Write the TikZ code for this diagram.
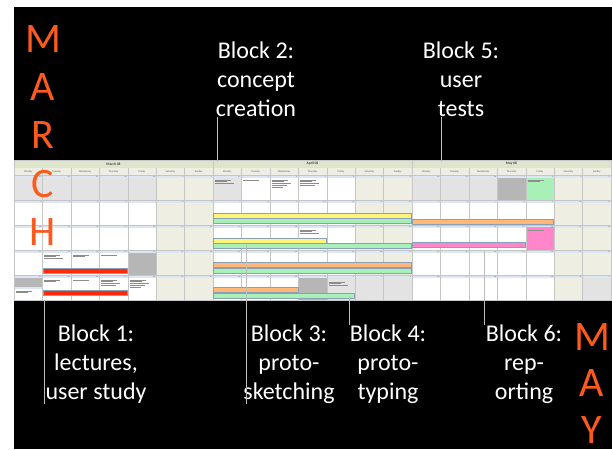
\documentclass[tikz,border=0pt]{standalone}
\usepackage{fontspec}
\setmainfont{Carlito}
\usetikzlibrary{positioning}

\definecolor{monthorange}{HTML}{FF5A1E}
\definecolor{leadgrey}{HTML}{BDBDBD}
\definecolor{titlebar}{HTML}{DCE4CC}
\definecolor{dayhead}{HTML}{EEEEE4}
\definecolor{datestrip}{HTML}{DCE6F4}
\definecolor{weekend}{HTML}{EEEEE2}
\definecolor{prevday}{HTML}{E3E3E3}
\definecolor{holiday}{HTML}{B6B6B6}
\definecolor{gridline}{HTML}{C6C6C6}
\definecolor{barline}{HTML}{8AA0B8}
\definecolor{lecturebar}{HTML}{FF2A0A}
\definecolor{sketchbar}{HTML}{FFF47A}
\definecolor{protobar}{HTML}{A8F0B8}
\definecolor{testbar}{HTML}{FFB878}
\definecolor{reportbar}{HTML}{FF86C8}

\tikzset{
  lbl/.style={text=white, align=center, inner sep=0pt, font=\fontsize{24}{29}\selectfont},
  monthletter/.style={text=monthorange, inner sep=0pt, font=\fontsize{42}{42}\selectfont},
  leader/.style={draw=leadgrey, line width=0.9pt},
  sheettitle/.style={inner sep=0pt, text=black!75, font=\fontsize{3.6}{4}\selectfont\bfseries},
  tinytext/.style={inner sep=0pt, text=black!65, font=\fontsize{2.6}{3}\selectfont},
  daynum/.style={inner sep=0pt, anchor=east, text=black!60, font=\fontsize{2.2}{2.5}\selectfont},
  notes/.style={draw=black!45, line width=0.35pt},
  gridline/.style={draw=gridline, line width=0.4pt},
}

% one month sheet: left edge, title, first grid day, length of month before, length of month
\newcommand{\monthgrid}[5]{%
  \fill[titlebar] (#1,160) rectangle ++(199,8);
  \node[sheettitle] at (#1+99.5,164) {#2};
  \fill[dayhead] (#1,168) rectangle ++(199,7);
  \foreach \dname [count=\c from 0] in {Monday,Tuesday,Wednesday,Thursday,Friday,Saturday,Sunday}
    \node[tinytext] at (#1+14.2+28.43*\c,171.5) {\dname};
  \foreach \r in {0,...,4}
    \foreach \c in {0,...,6} {
      \ifnum\c>4 \def\cellfill{weekend}\else\def\cellfill{white}\fi
      \fill[\cellfill] (#1+28.43*\c,175+25*\r) rectangle ++(28.43,25);
      \fill[datestrip] (#1+28.43*\c,175+25*\r) rectangle ++(28.43,3);
      \pgfmathtruncatemacro\n{#3+7*\r+\c}
      \pgfmathtruncatemacro\d{\n<1 ? \n+#4 : (\n>#5 ? \n-#5 : \n)}
      \node[daynum] at (#1+28.43*\c+27.6,176.5+25*\r) {\d};
    }
}
\newcommand{\gridlines}[1]{%
  \foreach \c in {1,...,6} \draw[gridline] (#1+28.43*\c,168) -- (#1+28.43*\c,300);
  \foreach \r in {0,...,5} \draw[gridline] (#1,175+25*\r) -- (#1+199,175+25*\r);
  \draw[gridline] (#1,160) rectangle (#1+199,300);
}
% left edge, column, row, colour
\newcommand{\paintcell}[4]{\fill[#4] (#1+28.43*#2,178+25*#3) rectangle ++(28.43,22);}
% left edge, first column, last column, top, colour
\newcommand{\eventbar}[5]{\filldraw[#5, draw=barline, line width=0.4pt]
  (#1+28.43*#2+0.5,#4) rectangle (#1+28.43*#3+27.9,#4+5);}
% left edge, column, top, lines
\newcommand{\notes}[4]{\foreach \k in {1,...,#4}
  \draw[notes] (#1+28.43*#2+2,#3+1.8*\k) -- ++({9+mod(7*\k,11)},0);}

\begin{document}
\begin{tikzpicture}[x=1pt,y=-1pt]
\useasboundingbox (0,0) rectangle (612,449);
\fill[white] (0,0) rectangle (612,449);
\fill[black] (14,7) rectangle (612,449);

% March
\monthgrid{14}{March 08}{-4}{29}{31}
\foreach \c in {0,...,4} \paintcell{14}{\c}{0}{prevday};
\paintcell{14}{4}{3}{holiday}
\fill[holiday] (14,278) rectangle ++(28.43,9);
\fill[datestrip] (14,287) rectangle ++(28.43,2);
\gridlines{14}
\notes{14}{1}{253}{3} \notes{14}{2}{253}{2} \notes{14}{3}{253}{1}
\notes{14}{0}{289}{2} \notes{14}{1}{278}{2} \notes{14}{2}{278}{1}
\notes{14}{3}{278}{4} \notes{14}{4}{278}{5}
\eventbar{14}{1}{3}{268.5}{lecturebar}
\eventbar{14}{1}{3}{290.5}{lecturebar}

% April
\monthgrid{213}{April 08}{0}{31}{30}
\paintcell{213}{0}{0}{prevday}
\paintcell{213}{3}{4}{holiday}
\foreach \c in {4,5,6} \paintcell{213}{\c}{4}{prevday};
\gridlines{213}
\notes{213}{0}{178}{3} \notes{213}{1}{178}{1} \notes{213}{2}{178}{5}
\notes{213}{3}{178}{4} \notes{213}{3}{228}{3} \notes{213}{4}{280}{3}
\eventbar{213}{0}{6}{213}{sketchbar}
\eventbar{213}{0}{6}{218.5}{protobar}
\eventbar{213}{0}{3}{238}{sketchbar}
\eventbar{213}{0}{6}{243.5}{protobar}
\eventbar{213}{0}{6}{262.5}{testbar}
\eventbar{213}{0}{6}{268}{protobar}
\eventbar{213}{0}{2}{287.5}{testbar}
\eventbar{213}{0}{4}{293}{protobar}

% May
\monthgrid{412}{May 08}{-2}{30}{31}
\foreach \c in {0,1,2} \paintcell{412}{\c}{0}{prevday};
\paintcell{412}{3}{0}{holiday}
\paintcell{412}{4}{0}{protobar}
\fill[reportbar] (412+28.43*4,227) rectangle ++(28.43,23);
\paintcell{412}{6}{4}{prevday}
\gridlines{412}
\notes{412}{4}{178}{2} \notes{412}{4}{228}{1}
\eventbar{412}{0}{4}{219}{testbar}
\eventbar{412}{0}{3}{242.5}{reportbar}

% month letters
\foreach \ltr [count=\i from 0] in {M,A,R,C,H}
  \node[monthletter] (march\i) at (43,39+48.2*\i) {\ltr};
\foreach \ltr [count=\i from 0] in {M,A,Y}
  \node[monthletter] (may\i) at (592,337+46.5*\i) {\ltr};

% block labels
\node[lbl, anchor=north] (blk2) at (256,42) {Block 2:\\concept\\creation};
\node[lbl, anchor=north] (blk5) at (461,42) {Block 5:\\user\\tests};
\node[lbl, anchor=north] (blk1) at (96,325) {Block 1:\\lectures,\\user study};
\node[lbl, anchor=north] (blk3) at (289,325) {Block 3:\\proto-\\sketching};
\node[lbl, anchor=north] (blk4) at (388,325) {Block 4:\\proto-\\typing};
\node[lbl, anchor=north] (blk6) at (524,325) {Block 6:\\rep-\\orting};

% leaders down to the sheets
\coordinate (b2foot) at (217,162);
\coordinate (b5foot) at (441,162);
\coordinate (b1head) at (44,300);
\coordinate (b3head) at (246,245);
\coordinate (b4head) at (349,296);
\coordinate (b6head) at (484,251);
\draw[leader] (b2foot |- blk2.south) -- (b2foot);
\draw[leader] (b5foot |- blk5.south) -- (b5foot);
\draw[leader] (b1head) -- (b1head |- blk1.south);
\draw[leader] (b3head) -- (b3head |- blk3.south);
\draw[leader] (b4head) -- (b4head |- blk4.north);
\draw[leader] (b6head) -- (b6head |- blk6.north);
\end{tikzpicture}
\end{document}
